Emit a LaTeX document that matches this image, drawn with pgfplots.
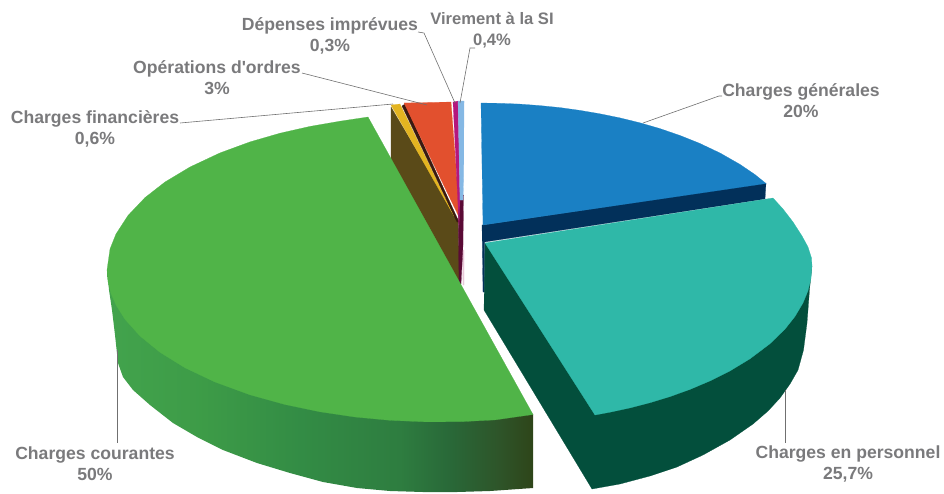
\documentclass[border=0pt]{standalone}
\usepackage{pgfplots}
\pgfplotsset{compat=1.18}
\usepackage{fontspec}
\newfontfamily\labfont{Liberation Sans}[Ligatures=ResetAll]
\definecolor{gtop}{HTML}{50B448}
\definecolor{ttop}{HTML}{2FB8A8}
\definecolor{tside}{HTML}{034F3C}
\definecolor{btop}{HTML}{1A80C4}
\definecolor{bside}{HTML}{02305A}
\definecolor{orangec}{HTML}{E2502E}
\definecolor{yellowc}{HTML}{E3B421}
\definecolor{brownc}{HTML}{5A4A18}
\definecolor{darkc}{HTML}{3A1A10}
\definecolor{magc}{HTML}{B5177C}
\definecolor{maroonc}{HTML}{5A0A35}
\definecolor{lblue}{HTML}{85B8E4}
\definecolor{pinkc}{HTML}{E8C8D8}
\definecolor{txt}{HTML}{7A7A7C}
\definecolor{leader}{HTML}{707070}
\pgfdeclarehorizontalshading{greenside}{100bp}{
 rgb(0bp)=(0.26,0.64,0.30);
 rgb(25bp)=(0.26,0.64,0.30);
 rgb(36bp)=(0.24,0.61,0.28);
 rgb(47.6bp)=(0.20,0.55,0.27);
 rgb(59.4bp)=(0.18,0.49,0.25);
 rgb(65.2bp)=(0.16,0.41,0.22);
 rgb(71.1bp)=(0.18,0.33,0.16);
 rgb(75bp)=(0.18,0.27,0.10);
 rgb(100bp)=(0.18,0.27,0.10)}
\tikzset{face/.style={draw=#1,line width=0.2pt,fill=#1},
 lab/.style={font=\fontsize{17.6}{21}\selectfont\labfont\bfseries,text=txt,align=center,inner sep=0pt},
 lead/.style={draw=leader,line width=0.6pt}}
\begin{document}
\begin{tikzpicture}
\path[use as bounding box] (0,0) rectangle (944pt,493pt);
\begin{axis}[at={(0,0)},anchor=south west,scale only axis,width=944pt,height=493pt,
 xmin=0,xmax=944,ymin=0,ymax=493,y dir=reverse,hide axis,clip=true]
% blue side
\addplot[face=bside] coordinates {(482,225)(766,183)(765,199)(484.5,242)(484.5,292)(483,292)(482,225)};
% blue top
\addplot[face=btop] coordinates {(481,103)(500,103.3)(520,104.1)(540,105.6)(560,107.6)(580,110.4)(600,113.8)(620,117.9)(640,122.8)(660,128.6)(680,135.5)(700,143.5)(720,153)(740,164.4)(755,174.6)(766,183.5)(483,225)(481,103)};
% teal side
\addplot[face=tside] coordinates {(485,243)(812,266)(811,275)(809.5,290)(807,323)(803.5,350)(798,370)(790,384)(780,398)(768,411)(753,424)(730,440)(703,455)(677,467)(650,476)(620,484)(592,489)(484,310)(485,243)};
% teal top
\addplot[face=ttop] coordinates {(485,243)(773,198)(783,209)(793,222)(802,236)(808,247)(811.5,258)(812,266)(811,278.4)(808,290.7)(803,302.9)(795,316.4)(785,329.1)(770,343.7)(750,358.8)(730,370.9)(710,380.9)(690,389.4)(670,396.6)(650,402.7)(630,407.9)(610,412.2)(595,415)(485,243)};
% back walls and narrow slices
\addplot[face=brownc] coordinates {(391,107)(458,220)(460,290)(391,160)(391,107)};
\addplot[face=pinkc] coordinates {(462,250)(464,250)(464,285)(463,285)(462,250)};
\addplot[face=yellowc] coordinates {(391,105)(400,104)(454,216)(391,105)};
\addplot[face=darkc] coordinates {(402,106)(405,104)(459,222)(457,222)(402,106)};
\addplot[face=orangec] coordinates {(404,103)(451,102)(460,219)(404,103)};
\addplot[face=maroonc] coordinates {(459,195)(463.5,195)(463,245)(461,284)(459,284)(458.3,220)(459,195)};
\addplot[face=magc] coordinates {(453,102)(458,101)(460,200)(459,225)(453,102)};
\addplot[face=lblue] coordinates {(458,101)(464,101)(463.7,175)(463,200)(460,200)(458,101)};
% green side, shaded
\addplot[draw=none,shade,shading=greenside] coordinates {(107,270)(109,290)(112,310)(115,335)(118,363)(123,377)(133,390)(150,405)(173,423)(197,437)(223,450)(257,463)(290,473)(323,482)(357,488)(390,491)(423,492)(457,492)(490,491)(533,488)(533,414)(107,270)};
% green top
\addplot[face=gtop] coordinates {(368,117)(340,121.2)(310,126.4)(280,133.2)(250,141.9)(220,152.9)(190,167)(165,182)(145,197.6)(128,215.5)(116,234)(110,249)(107,270)(108,281.7)(111,293.5)(116,305)(125,319.3)(140,336)(160,352.3)(185,367.8)(215,382)(250,394.8)(285,404.5)(320,411.8)(355,417)(390,420.3)(425,421.8)(460,421.7)(495,419.9)(533,414.5)(368,117)};
% leader lines
\addplot[lead] coordinates {(722,96)(719,96)(643,123)};
\addplot[lead] coordinates {(785,390)(785,443)};
\addplot[lead] coordinates {(117,350)(117,443)};
\addplot[lead] coordinates {(180,123)(393,104)};
\addplot[lead] coordinates {(302,73)(427,105)};
\addplot[lead] coordinates {(418,32)(424,33)(455,103)};
\addplot[lead] coordinates {(475,48)(470,48)(460,103)};
% labels
\node[lab] at (axis cs:330,35.5) {Dépenses imprévues\\0,3\%};
\node[lab,font=\fontsize{16.6}{21}\selectfont\labfont\bfseries] at (axis cs:492,30.5) {Virement à la SI\\0,4\%};
\node[lab] at (axis cs:217,77.5) {Opérations d'ordres\\3\%};
\node[lab] at (axis cs:95,128.5) {Charges financières\\0,6\%};
\node[lab] at (axis cs:801,100.5) {Charges générales\\20\%};
\node[lab] at (axis cs:848,463.5) {Charges en personnel\\25,7\%};
\node[lab] at (axis cs:95,464) {Charges courantes\\50\%};
\end{axis}
\end{tikzpicture}
\end{document}
